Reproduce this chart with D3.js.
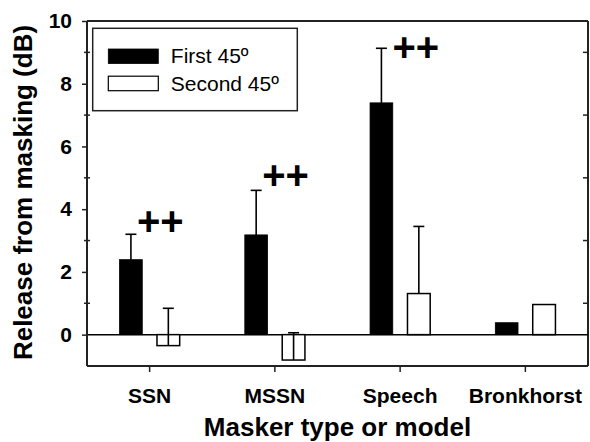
<!DOCTYPE html>
<html>
<head>
<meta charset="utf-8">
<script src="https://cdn.jsdelivr.net/npm/d3@7"></script>
<style>
  body { margin: 0; background: #fff; }
  svg { display: block; font-family: "Liberation Sans", Arial, sans-serif; }
</style>
</head>
<body>
<svg id="chart"></svg>
<script>
const categories = ['SSN', 'MSSN', 'Speech', 'Bronkhorst'];
const seriesNames = ['First 45º', 'Second 45º'];
const firstMeans = [2.39, 3.18, 7.39, 0.38];
const firstErr = [0.81, 1.42, 1.74, null];
const secondMeans = [-0.35, -0.81, 1.31, 0.96];
const secondErr = [1.19, 0.87, 2.14, null];
const sigLabels = ['++', '++', '++', null];
const sigLevels = [3.6, 5.05, 9.14, null];
const yTicks = [0, 2, 4, 6, 8, 10];
const yMinorTicks = [-1, 1, 3, 5, 7, 9];

const fullWidth = 590;
const fullHeight = 442;
const margin = {top: 21, right: 2, bottom: 76, left: 87};
const width = fullWidth - margin.left - margin.right;
const height = fullHeight - margin.top - margin.bottom;
const axisColor = '#222';

const svg = d3.select('#chart')
    .attr('width', fullWidth)
    .attr('height', fullHeight);

const g = svg.append('g')
    .attr('transform', `translate(${margin.left}, ${margin.top})`);

const x = d3.scaleBand()
    .domain(categories)
    .range([0, width]);

const xSeries = d3.scaleBand()
    .domain(['first', 'second'])
    .range([-37.4, 37.4])
    .paddingInner(0.393)
    .paddingOuter(0.196);

const y = d3.scaleLinear()
    .domain([-1, 10])
    .range([height, 0]);

const rows = [];
categories.forEach((c, i) => {
    rows.push({cat: c, key: 'first', mean: firstMeans[i], err: firstErr[i]});
    rows.push({cat: c, key: 'second', mean: secondMeans[i], err: secondErr[i]});
});

// frame: top and right
g.append('line')
    .attr('x1', 0).attr('x2', width).attr('y1', 0).attr('y2', 0)
    .attr('stroke', axisColor).attr('stroke-width', 2);
g.append('line')
    .attr('x1', width).attr('x2', width).attr('y1', 0).attr('y2', height)
    .attr('stroke', axisColor).attr('stroke-width', 2);

// zero line
g.append('line')
    .attr('x1', 0).attr('x2', width)
    .attr('y1', y(0)).attr('y2', y(0))
    .attr('stroke', '#000').attr('stroke-width', 1.5);

// bars
const barCenter = d => x(d.cat) + x.bandwidth() / 2 + xSeries(d.key) + xSeries.bandwidth() / 2;

g.append('g').attr('class', 'bars')
    .selectAll('rect').data(rows)
    .enter().append('rect')
        .attr('x', d => x(d.cat) + x.bandwidth() / 2 + xSeries(d.key))
        .attr('y', d => y(Math.max(0, d.mean)))
        .attr('width', xSeries.bandwidth())
        .attr('height', d => Math.abs(y(d.mean) - y(0)))
        .attr('fill', d => d.key === 'first' ? '#000' : '#fff')
        .attr('stroke', '#000')
        .attr('stroke-width', d => d.key === 'first' ? 0.8 : 1.5);

// error bars (upward only)
const errRows = rows.filter(d => d.err != null);
const errG = g.append('g').attr('class', 'errors');
errG.selectAll('line.stem').data(errRows)
    .enter().append('line')
        .attr('class', 'stem')
        .attr('x1', barCenter).attr('x2', barCenter)
        .attr('y1', d => y(d.mean)).attr('y2', d => y(d.mean + d.err))
        .attr('stroke', '#000').attr('stroke-width', 1.6);
errG.selectAll('line.cap').data(errRows)
    .enter().append('line')
        .attr('class', 'cap')
        .attr('x1', d => barCenter(d) - 5.5).attr('x2', d => barCenter(d) + 5.5)
        .attr('y1', d => y(d.mean + d.err)).attr('y2', d => y(d.mean + d.err))
        .attr('stroke', '#000').attr('stroke-width', 1.6);

// significance markers
const sigRows = categories.map((c, i) => ({
    cat: c, label: sigLabels[i], level: sigLevels[i],
    capTop: firstMeans[i] + (firstErr[i] || 0)
})).filter(d => d.label);

g.append('g').attr('class', 'sig')
    .selectAll('text').data(sigRows)
    .enter().append('text')
        .attr('x', d => {
            const cx = barCenter({cat: d.cat, key: 'first'});
            return Math.abs(d.level - d.capTop) < 0.2 ? cx + 11 : cx + 6;
        })
        .attr('y', d => y(d.level) + 13)
        .attr('font-size', 40)
        .attr('font-weight', 'bold')
        .attr('fill', '#000')
        .text(d => d.label);

// left axis: major ticks outward
const yAxis = g.append('g')
    .call(d3.axisLeft(y).tickValues(yTicks).tickSize(5).tickPadding(10).tickFormat(d3.format('d')));
yAxis.select('.domain').attr('stroke', axisColor).attr('stroke-width', 2)
    .attr('d', `M0,0V${height}`);
yAxis.selectAll('.tick line').attr('stroke', axisColor).attr('stroke-width', 1.5);
yAxis.selectAll('.tick text')
    .attr('font-size', 21).attr('font-weight', 'bold').attr('fill', '#000')
    .attr('font-family', '"Liberation Sans", Arial, sans-serif');

// left axis minor ticks crossing the axis
g.append('g').selectAll('line').data(yMinorTicks.filter(v => v > -1))
    .enter().append('line')
        .attr('x1', -3).attr('x2', 3)
        .attr('y1', d => y(d)).attr('y2', d => y(d))
        .attr('stroke', axisColor).attr('stroke-width', 1.5);

// right side inward ticks at odd values
g.append('g').selectAll('line').data(yMinorTicks.filter(v => v > -1))
    .enter().append('line')
        .attr('x1', width - 5).attr('x2', width)
        .attr('y1', d => y(d)).attr('y2', d => y(d))
        .attr('stroke', axisColor).attr('stroke-width', 1.5);

// bottom axis
const xAxis = g.append('g')
    .attr('transform', `translate(0, ${height})`)
    .call(d3.axisBottom(x).tickSize(6).tickPadding(16));
xAxis.select('.domain').attr('stroke', axisColor).attr('stroke-width', 2)
    .attr('d', `M0,0H${width}`);
xAxis.selectAll('.tick line').attr('stroke', axisColor).attr('stroke-width', 1.5);
xAxis.selectAll('.tick text')
    .attr('font-size', 21).attr('font-weight', 'bold').attr('fill', '#000')
    .attr('font-family', '"Liberation Sans", Arial, sans-serif');

// axis titles
svg.append('text')
    .attr('x', margin.left + width / 2)
    .attr('y', 436)
    .attr('text-anchor', 'middle')
    .attr('font-size', 26).attr('font-weight', 'bold')
    .text('Masker type or model');

svg.append('text')
    .attr('transform', 'translate(32, 192.5) rotate(-90)')
    .attr('text-anchor', 'middle')
    .attr('font-size', 26).attr('font-weight', 'bold')
    .text('Release from masking (dB)');

// legend
const legend = svg.append('g').attr('transform', 'translate(92.7, 28.3)');
legend.append('rect')
    .attr('width', 204.6).attr('height', 82.4)
    .attr('fill', '#fff').attr('stroke', axisColor).attr('stroke-width', 1.5);
const legendItem = legend.selectAll('g.item').data(seriesNames)
    .enter().append('g')
        .attr('class', 'item')
        .attr('transform', (d, i) => `translate(15.6, ${20.7 + i * 27.2})`);
legendItem.append('rect')
    .attr('width', 50).attr('height', 14.5)
    .attr('fill', (d, i) => i === 0 ? '#000' : '#fff')
    .attr('stroke', '#000').attr('stroke-width', (d, i) => i === 0 ? 0.8 : 1.2);
legendItem.append('text')
    .attr('x', 62.5).attr('y', 14.3)
    .attr('font-size', 21)
    .text(d => d);
</script>
</body>
</html>
